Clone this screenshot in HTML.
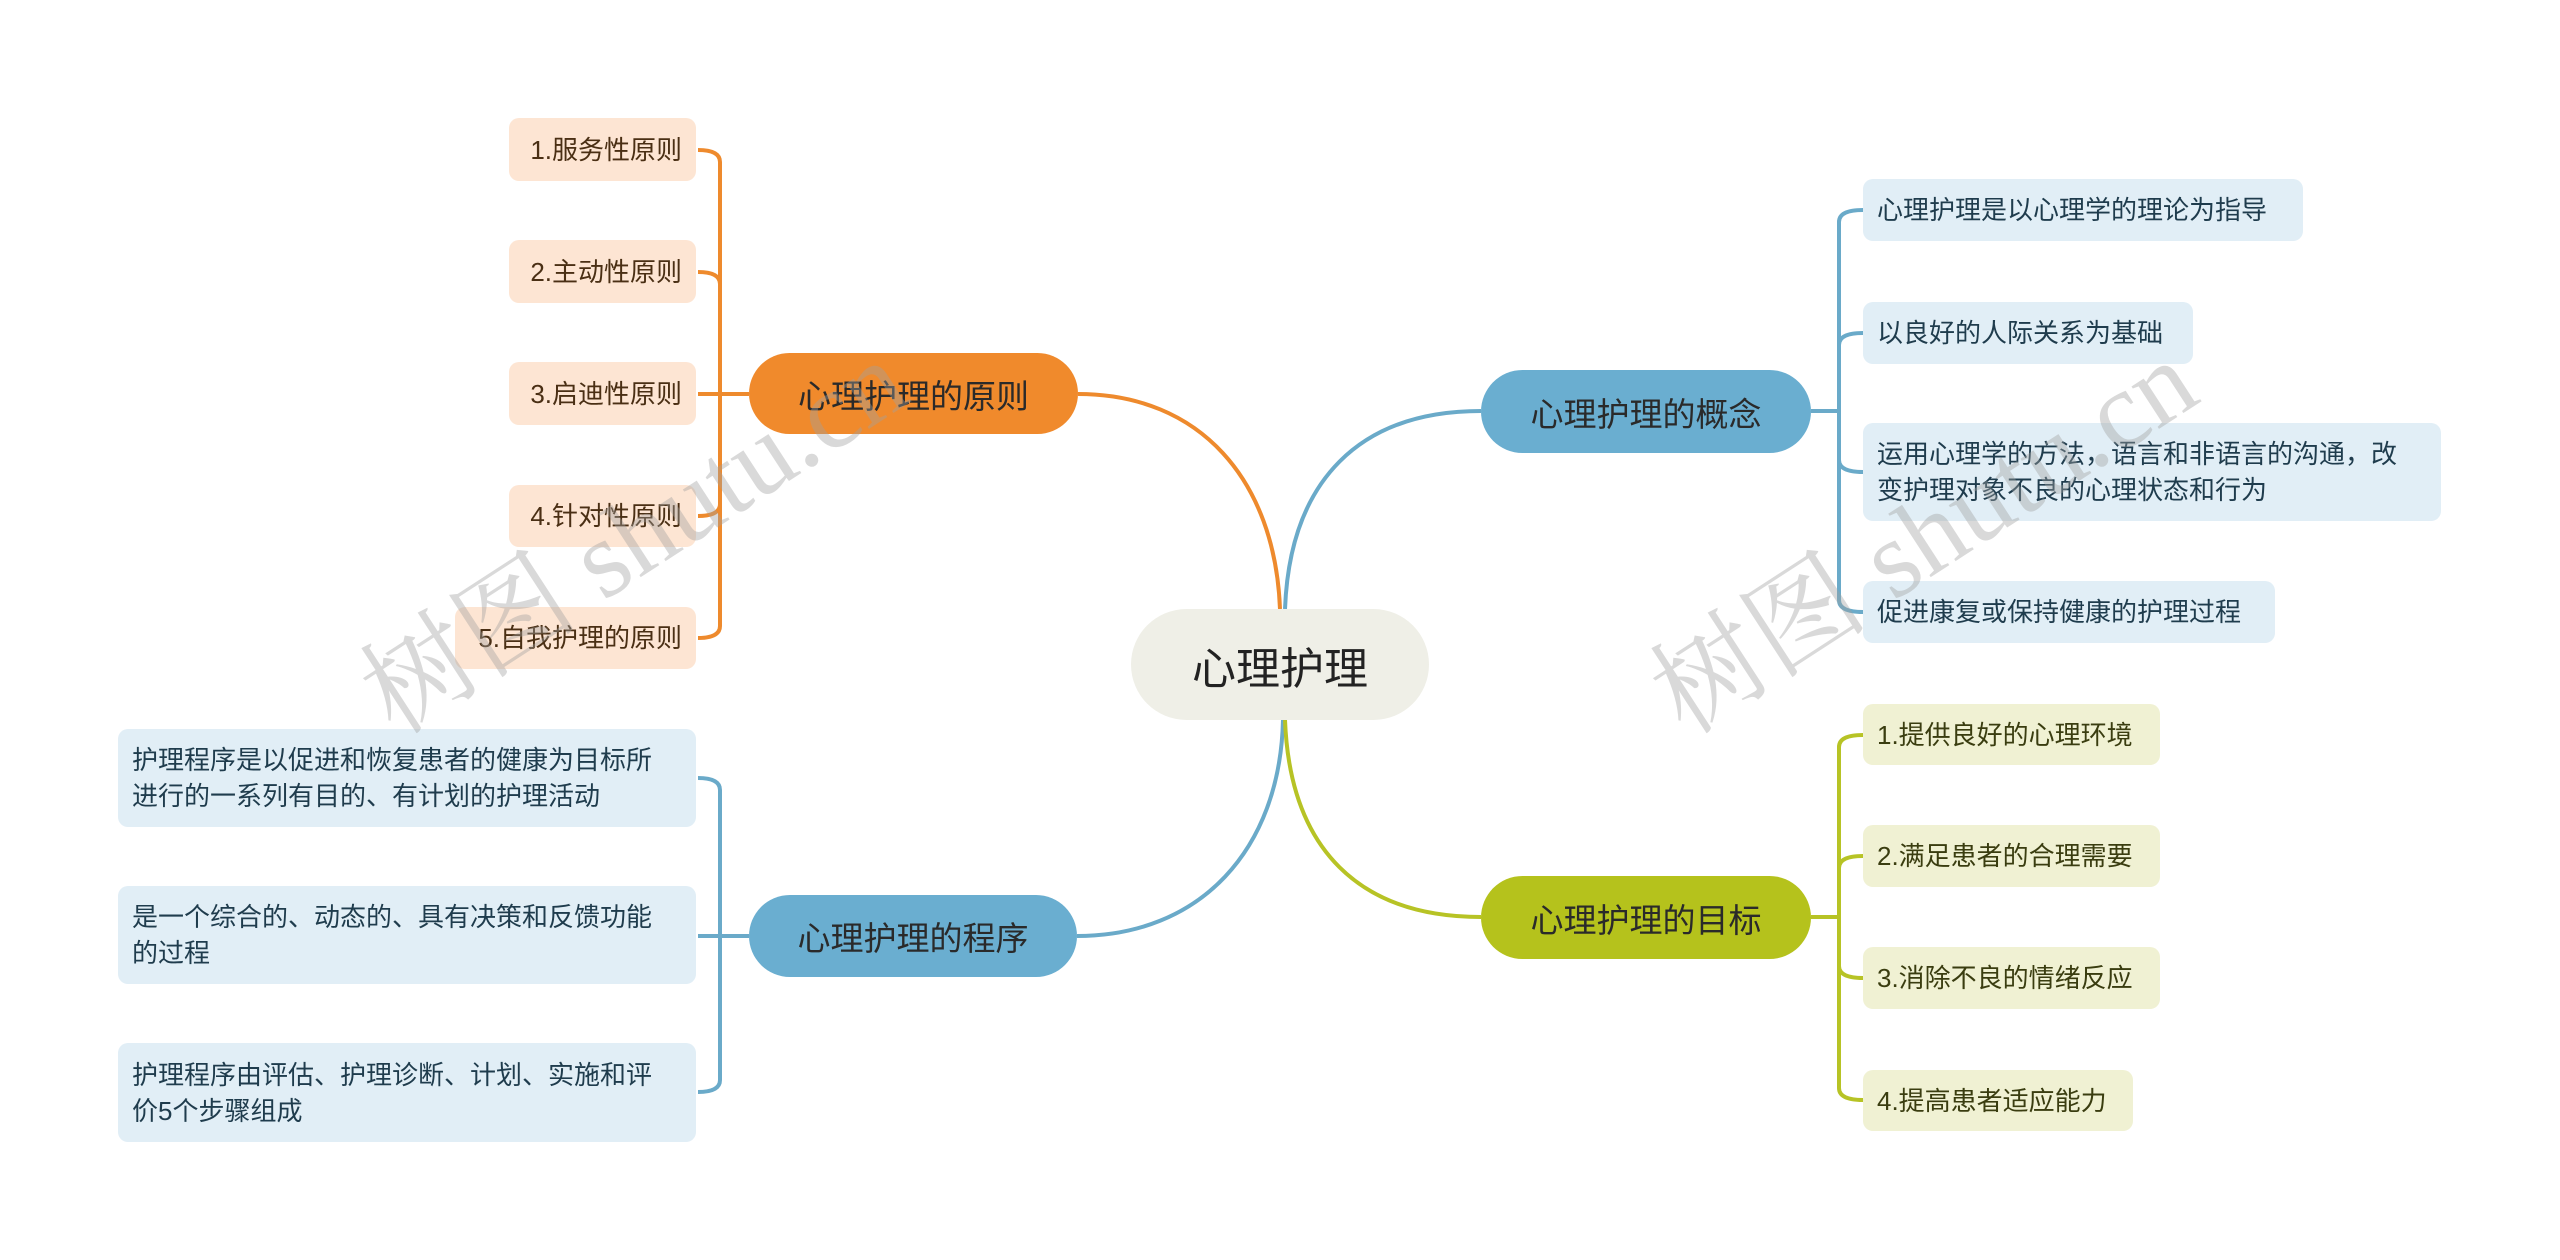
<!DOCTYPE html>
<html><head><meta charset="utf-8"><style>
html,body{margin:0;padding:0;background:#fff;}
body{width:2560px;height:1260px;position:relative;overflow:hidden;font-family:"Liberation Sans","Noto Sans CJK SC",sans-serif;}
.b{position:absolute;box-sizing:border-box;border-radius:10px;font-size:26px;line-height:36px;color:#333;padding:0 26px 0 14px;display:flex;align-items:center;}
.o{background:#fde5d3;color:#4a2f14;justify-content:flex-end;padding:0 14px;}
.bl{background:#e1eef6;color:#1f3c4d;}
.g{background:#f0f1d3;color:#3a3d10;}
.n{position:absolute;box-sizing:border-box;border-radius:42px;font-size:33px;display:flex;align-items:center;justify-content:center;color:#2a2a2a;}
.wm{position:absolute;font-family:"Liberation Serif","Noto Serif CJK SC",serif;font-size:110px;color:rgba(160,160,160,0.4);transform:rotate(-33deg);white-space:nowrap;transform-origin:center;}
</style></head><body>
<svg width="2560" height="1260" style="position:absolute;left:0;top:0" fill="none" stroke-width="4">
<g stroke="#ee8a2d">
<path d="M1280 609 C1275 480 1200 394 1078 394"/>
<path d="M749 394 L720 394"/>
<path d="M720 394 L720 162 Q720 150 698 150"/>
<path d="M720 394 L720 284 Q720 272 698 272"/>
<path d="M720 394 L698 394"/>
<path d="M720 394 L720 504 Q720 516 698 516"/>
<path d="M720 394 L720 626 Q720 638 698 638"/>
</g>
<g stroke="#6aaac9">
<path d="M1285 609 C1290 480 1360 411 1481 411"/>
<path d="M1811 411 L1839 411"/>
<path d="M1839 411 L1839 222 Q1839 210 1863 210"/>
<path d="M1839 411 L1839 345 Q1839 333 1863 333"/>
<path d="M1839 411 L1839 460 Q1839 472 1863 472"/>
<path d="M1839 411 L1839 600 Q1839 612 1863 612"/>
<path d="M1283 720 C1280 850 1200 936 1077 936"/>
<path d="M749 936 L720 936"/>
<path d="M720 936 L720 790 Q720 778 698 778"/>
<path d="M720 936 L698 936"/>
<path d="M720 936 L720 1080 Q720 1092 698 1092"/>
</g>
<g stroke="#b7c325">
<path d="M1285 720 C1290 850 1360 917 1481 917"/>
<path d="M1811 917 L1839 917"/>
<path d="M1839 917 L1839 747 Q1839 735 1863 735"/>
<path d="M1839 917 L1839 868 Q1839 856 1863 856"/>
<path d="M1839 917 L1839 966 Q1839 978 1863 978"/>
<path d="M1839 917 L1839 1088 Q1839 1100 1863 1100"/>
</g>
</svg>

<div class="n" style="left:1131px;top:609px;width:298px;height:111px;border-radius:56px;background:#efefe7;font-size:44px;color:#222;">心理护理</div>
<div class="n" style="left:749px;top:353px;width:329px;height:81px;background:#f08a2c;">心理护理的原则</div>
<div class="n" style="left:749px;top:895px;width:328px;height:82px;background:#6aaed0;">心理护理的程序</div>
<div class="n" style="left:1481px;top:370px;width:330px;height:83px;background:#6aaed0;">心理护理的概念</div>
<div class="n" style="left:1481px;top:876px;width:330px;height:83px;background:#b5c21c;">心理护理的目标</div>

<div class="b o" style="left:509px;top:118px;width:187px;height:63px;">1.服务性原则</div>
<div class="b o" style="left:509px;top:240px;width:187px;height:63px;">2.主动性原则</div>
<div class="b o" style="left:509px;top:362px;width:187px;height:63px;">3.启迪性原则</div>
<div class="b o" style="left:509px;top:485px;width:187px;height:62px;">4.针对性原则</div>
<div class="b o" style="left:455px;top:607px;width:241px;height:62px;">5.自我护理的原则</div>

<div class="b bl" style="left:118px;top:729px;width:578px;height:98px;">护理程序是以促进和恢复患者的健康为目标所进行的一系列有目的、有计划的护理活动</div>
<div class="b bl" style="left:118px;top:886px;width:578px;height:98px;">是一个综合的、动态的、具有决策和反馈功能的过程</div>
<div class="b bl" style="left:118px;top:1043px;width:578px;height:99px;">护理程序由评估、护理诊断、计划、实施和评价5个步骤组成</div>

<div class="b bl" style="left:1863px;top:179px;width:440px;height:62px;">心理护理是以心理学的理论为指导</div>
<div class="b bl" style="left:1863px;top:302px;width:330px;height:62px;">以良好的人际关系为基础</div>
<div class="b bl" style="left:1863px;top:423px;width:578px;height:98px;">运用心理学的方法，语言和非语言的沟通，改变护理对象不良的心理状态和行为</div>
<div class="b bl" style="left:1863px;top:581px;width:412px;height:62px;">促进康复或保持健康的护理过程</div>

<div class="b g" style="left:1863px;top:704px;width:297px;height:61px;">1.提供良好的心理环境</div>
<div class="b g" style="left:1863px;top:825px;width:297px;height:62px;">2.满足患者的合理需要</div>
<div class="b g" style="left:1863px;top:947px;width:297px;height:62px;">3.消除不良的情绪反应</div>
<div class="b g" style="left:1863px;top:1070px;width:270px;height:61px;">4.提高患者适应能力</div>

<div class="wm" style="left:320px;top:450px;">树图 shutu.cn</div>
<div class="wm" style="left:1610px;top:450px;">树图 shutu.cn</div>
</body></html>
